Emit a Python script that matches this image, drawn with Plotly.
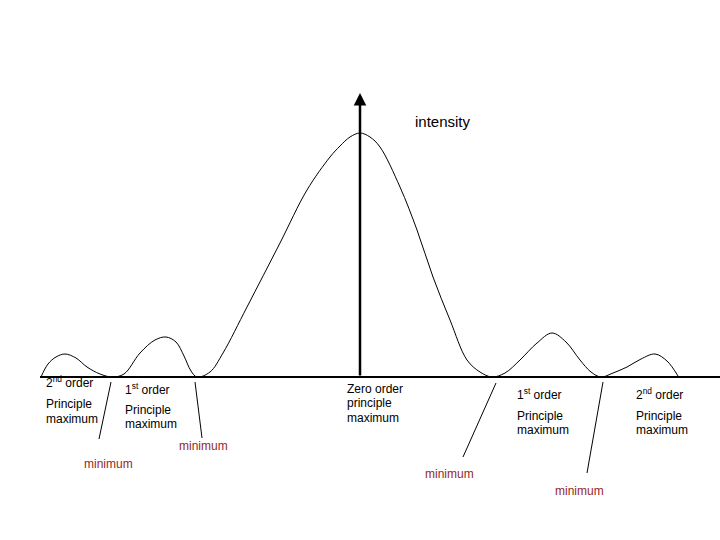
import plotly.graph_objects as go

# Intensity curve (diagram units: x across, y down like the drawing)
curve_x = [41, 48, 56, 65, 76, 87, 100, 112, 124, 140, 155, 166, 176, 184, 191, 197,
           210, 223, 247, 280, 307, 330, 340, 350, 360, 370, 380, 400, 417, 433, 450, 467,
           480, 492, 505, 520, 537, 552, 566, 580, 591, 601, 613, 627, 641, 655, 667, 678]
curve_y = [377, 364, 357, 354, 358, 367, 374, 377, 374, 353, 340, 337, 342, 356, 371, 377,
           372, 353, 307, 243, 190, 157, 146, 137, 133, 137, 147, 187, 230, 277, 320, 360,
           372, 377, 373, 360, 343, 333, 342, 360, 372, 377, 373, 367, 359, 354, 361, 376]

# Axis lines
base_x = [40, 720]
base_y = [377, 377]
axis_x = 360
axis_y0, axis_y1 = 377, 93

# Black labels
label_text = ["2<sup>nd</sup> order", "Principle", "maximum",
              "1<sup>st</sup> order", "Principle", "maximum",
              "Zero order", "principle", "maximum",
              "1<sup>st</sup> order", "Principle", "maximum",
              "2<sup>nd</sup> order", "Principle", "maximum"]
label_x = [44, 44, 44, 123, 123, 123, 345, 345, 345, 515, 515, 515, 634, 634, 634]
label_y = [382, 404, 419, 389, 410, 424, 389, 403, 418, 394, 416, 430, 394, 416, 430]

# Minimum labels and their leader lines
min_text = ["minimum", "minimum", "minimum", "minimum"]
min_x = [108, 203, 449, 579]
min_y = [464, 446, 474, 491]
lead_x0 = [111, 195, 496, 603]
lead_y0 = [382, 382, 383, 382]
lead_x1 = [99, 202, 463, 587]
lead_y1 = [439, 438, 457, 473]

fig = go.Figure()

fig.add_trace(go.Scatter(x=curve_x, y=curve_y, mode="lines",
                         line=dict(color="black", width=1, shape="spline", smoothing=1.0),
                         hoverinfo="skip", showlegend=False))
fig.add_trace(go.Scatter(x=base_x, y=base_y, mode="lines",
                         line=dict(color="black", width=2),
                         hoverinfo="skip", showlegend=False))

for i in range(len(lead_x0)):
    fig.add_trace(go.Scatter(x=[lead_x0[i], lead_x1[i]], y=[lead_y0[i], lead_y1[i]],
                             mode="lines", line=dict(color="black", width=1),
                             hoverinfo="skip", showlegend=False))

annotations = []
annotations.append(dict(x=axis_x, y=axis_y1, ax=axis_x, ay=axis_y0, xref="x", yref="y",
                        axref="x", ayref="y", text="", showarrow=True,
                        arrowhead=2, arrowsize=1, arrowwidth=2.5, arrowcolor="black"))
annotations.append(dict(x=413, y=121, xref="x", yref="y", text="intensity",
                        showarrow=False, xanchor="left", yanchor="middle",
                        font=dict(family="Liberation Sans, Arial", size=15, color="black")))
for t, x, y in zip(label_text, label_x, label_y):
    annotations.append(dict(x=x, y=y, xref="x", yref="y", text=t, showarrow=False,
                            xanchor="left", yanchor="middle",
                            font=dict(family="Liberation Sans, Arial", size=12, color="black")))
for t, x, y in zip(min_text, min_x, min_y):
    annotations.append(dict(x=x, y=y, xref="x", yref="y", text=t, showarrow=False,
                            xanchor="center", yanchor="middle",
                            font=dict(family="Liberation Sans, Arial", size=12, color="#962828")))

fig.update_layout(
    width=720, height=540, autosize=False,
    margin=dict(l=0, r=0, t=0, b=0),
    paper_bgcolor="white", plot_bgcolor="white",
    xaxis=dict(range=[0, 720], visible=False, fixedrange=True),
    yaxis=dict(range=[540, 0], visible=False, fixedrange=True),
    annotations=annotations,
    showlegend=False,
)

fig.write_html("out.html", config={"displayModeBar": False, "staticPlot": True},
               post_script="document.body.style.margin='0';document.body.style.overflow='hidden';")
